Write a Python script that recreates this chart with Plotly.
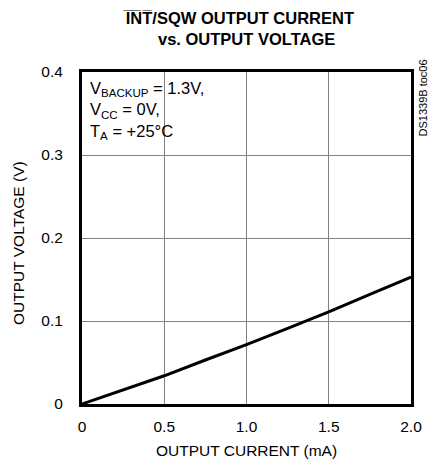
import plotly.graph_objects as go

# Data
current_mA = [0, 0.25, 0.5, 0.75, 1.0, 1.25, 1.5, 1.75, 2.0]
voltage_V = [0, 0.017, 0.034, 0.053, 0.0715, 0.091, 0.111, 0.132, 0.153]

x_tickvals = [0, 0.5, 1.0, 1.5, 2.0]
x_ticktext = ["0", "0.5", "1.0", "1.5", "2.0"]
y_tickvals = [0, 0.1, 0.2, 0.3, 0.4]
y_ticktext = ["0", "0.1", "0.2", "0.3", "0.4"]

FONT = "Liberation Sans, Arial, sans-serif"

fig = go.Figure()
fig.add_trace(go.Scatter(x=current_mA, y=voltage_V, mode="lines",
                         line=dict(color="black", width=3), showlegend=False))

fig.update_layout(
    width=434, height=465,
    margin=dict(l=82, r=20, t=72, b=61),
    paper_bgcolor="white", plot_bgcolor="white",
    font=dict(family=FONT, color="black", size=15),
)
fig.update_xaxes(range=[0, 2.0], tickvals=x_tickvals, ticktext=x_ticktext,
                 showgrid=True, gridcolor="#808080", gridwidth=1,
                 showline=True, linecolor="black", linewidth=3, mirror=True,
                 ticks="", zeroline=False, tickfont=dict(size=15.5),
                 ticklabelstandoff=6)
fig.update_yaxes(range=[0, 0.4], tickvals=y_tickvals, ticktext=y_ticktext,
                 showgrid=True, gridcolor="#808080", gridwidth=1,
                 showline=True, linecolor="black", linewidth=3, mirror=True,
                 ticks="", zeroline=False, tickfont=dict(size=15.5),
                 ticklabelstandoff=13)

# axis titles
fig.add_annotation(xref="paper", yref="paper", x=0.5, y=0, yshift=-46,
                   text="OUTPUT CURRENT (mA)", showarrow=False,
                   xanchor="center", yanchor="middle", font=dict(size=15.5))
fig.add_annotation(xref="paper", yref="paper", x=0, y=0.485, xshift=-63,
                   text="OUTPUT VOLTAGE (V)", textangle=-90, showarrow=False,
                   xanchor="center", yanchor="middle", font=dict(size=15.5))

# title
fig.add_annotation(xref="paper", yref="paper", x=0.476, y=1.0, yshift=54,
                   text="<b>I\u0305N\u0305T\u0305/SQW OUTPUT CURRENT</b>", showarrow=False,
                   font=dict(size=16.5), xanchor="center", yanchor="middle")
fig.add_annotation(xref="paper", yref="paper", x=0.5, y=1.0, yshift=33,
                   text="<b>vs. OUTPUT VOLTAGE</b>", showarrow=False,
                   font=dict(size=16.5), xanchor="center", yanchor="middle")

# conditions
fig.add_annotation(xref="paper", yref="paper", x=0.0, y=1.0, xshift=6, yshift=-5,
                   text="V<sub>BACKUP</sub> = 1.3V,<br>V<sub>CC</sub> = 0V,<br>T<sub>A</sub> = +25°C",
                   showarrow=False, align="left", xanchor="left", yanchor="top",
                   font=dict(size=16.5))
fig.add_annotation(xref="paper", yref="paper", x=1.0, y=1.0, xshift=11, yshift=14,
                   text="DS1339B toc06", textangle=-90, showarrow=False,
                   xanchor="center", yanchor="top", font=dict(size=11))

fig.write_html(
    "out.html",
    config={"displayModeBar": False},
    post_script="document.body.style.margin='0';document.body.style.overflow='hidden';",
)
